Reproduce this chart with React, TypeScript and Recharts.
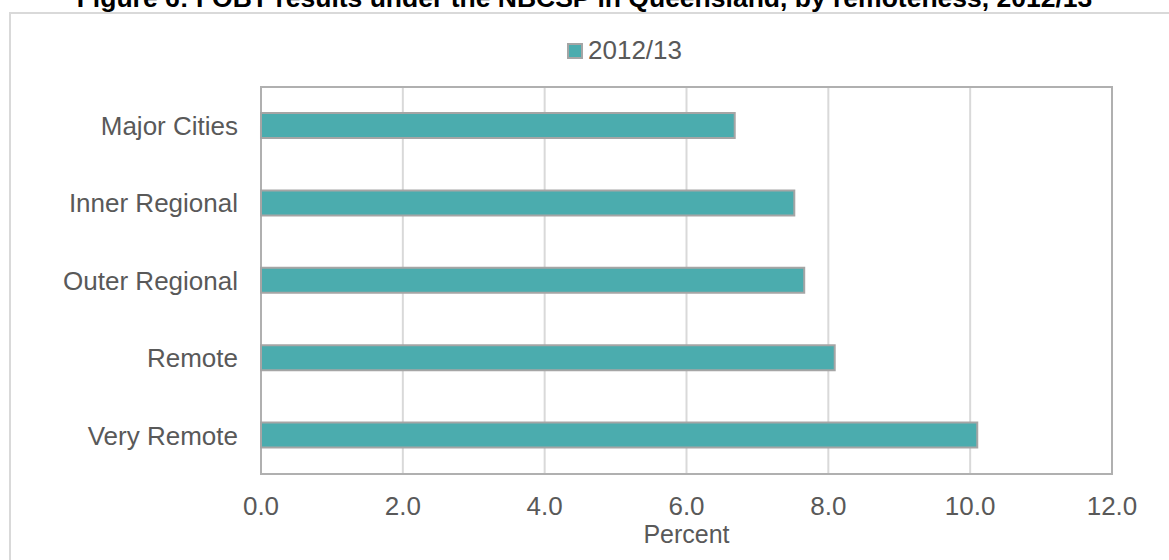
import React from 'react';
import {
  BarChart,
  Bar,
  XAxis,
  YAxis,
  CartesianGrid,
  ReferenceArea,
} from 'recharts';

const regions = ['Major Cities', 'Inner Regional', 'Outer Regional', 'Remote', 'Very Remote'];
const fobt2012 = [6.68, 7.52, 7.66, 8.09, 10.1];
const xTicks = [0, 2, 4, 6, 8, 10, 12];
const seriesName = '2012/13';
const title = 'Figure 6: FOBT results under the NBCSP in Queensland, by remoteness, 2012/13';

const data = regions.map((region, i) => ({ region, value: fobt2012[i] }));

const FONT = '"Liberation Sans", Arial, sans-serif';
const TEXT = '#595959';
const TEAL = '#4BACAE';
const BAR_EDGE = '#A5A5A5';

// legend sits as a plain overlay so it doesn't push the plot area down
function LegendBox() {
  return (
    <div
      style={{
        position: 'absolute',
        left: 567,
        top: 35,
        display: 'flex',
        alignItems: 'center',
        fontFamily: FONT,
        fontSize: 26,
        color: TEXT,
      }}
    >
      <span
        style={{
          display: 'inline-block',
          width: 12,
          height: 12,
          background: TEAL,
          border: `2px solid ${BAR_EDGE}`,
          marginRight: 5,
        }}
      />
      <span>{seriesName}</span>
    </div>
  );
}

export default function App() {
  return (
    <div
      style={{
        position: 'absolute',
        left: 0,
        top: 0,
        width: 1169,
        height: 560,
        overflow: 'hidden',
        background: '#fff',
        fontFamily: FONT,
      }}
    >
      {/* outer chart frame, mostly outside the crop */}
      <div
        style={{
          position: 'absolute',
          left: 9,
          top: 12,
          width: 1300,
          height: 700,
          borderLeft: '2px solid #D9D9D9',
          borderTop: '2px solid #D9D9D9',
        }}
      />
      <div
        style={{
          position: 'absolute',
          left: 0,
          width: 1169,
          top: -17,
          textAlign: 'center',
          fontWeight: 'bold',
          fontSize: 26.5,
          color: '#000',
          whiteSpace: 'nowrap',
        }}
      >
        {title}
      </div>
      <LegendBox />
      <div style={{ position: 'absolute', left: 0, top: 0 }}>
        <BarChart
          width={1169}
          height={560}
          data={data}
          layout="vertical"
          margin={{ top: 87, right: 57, left: 0, bottom: 0 }}
          barCategoryGap={0}
        >
          <CartesianGrid horizontal={false} stroke="#D9D9D9" strokeWidth={2} />
          <XAxis
            type="number"
            domain={[0, 12]}
            ticks={xTicks}
            tickFormatter={(v: number) => v.toFixed(1)}
            height={86}
            axisLine={false}
            tickLine={false}
            tickSize={0}
            tickMargin={23}
            tick={{ fontSize: 26, fill: TEXT, fontFamily: FONT }}
            label={{
              value: 'Percent',
              position: 'insideBottom',
              offset: 17,
              fontSize: 25,
              fill: TEXT,
              fontFamily: FONT,
            }}
          />
          <YAxis
            type="category"
            dataKey="region"
            width={261}
            axisLine={false}
            tickLine={false}
            tickSize={0}
            tickMargin={23}
            tick={{ fontSize: 26, fill: TEXT, fontFamily: FONT }}
          />
          <Bar
            dataKey="value"
            name={seriesName}
            fill={TEAL}
            stroke={BAR_EDGE}
            strokeWidth={2}
            barSize={25}
            isAnimationActive={false}
          />
          <ReferenceArea x1={0} x2={12} fill="none" stroke="#B0B0B0" strokeWidth={2} />
        </BarChart>
      </div>
    </div>
  );
}
